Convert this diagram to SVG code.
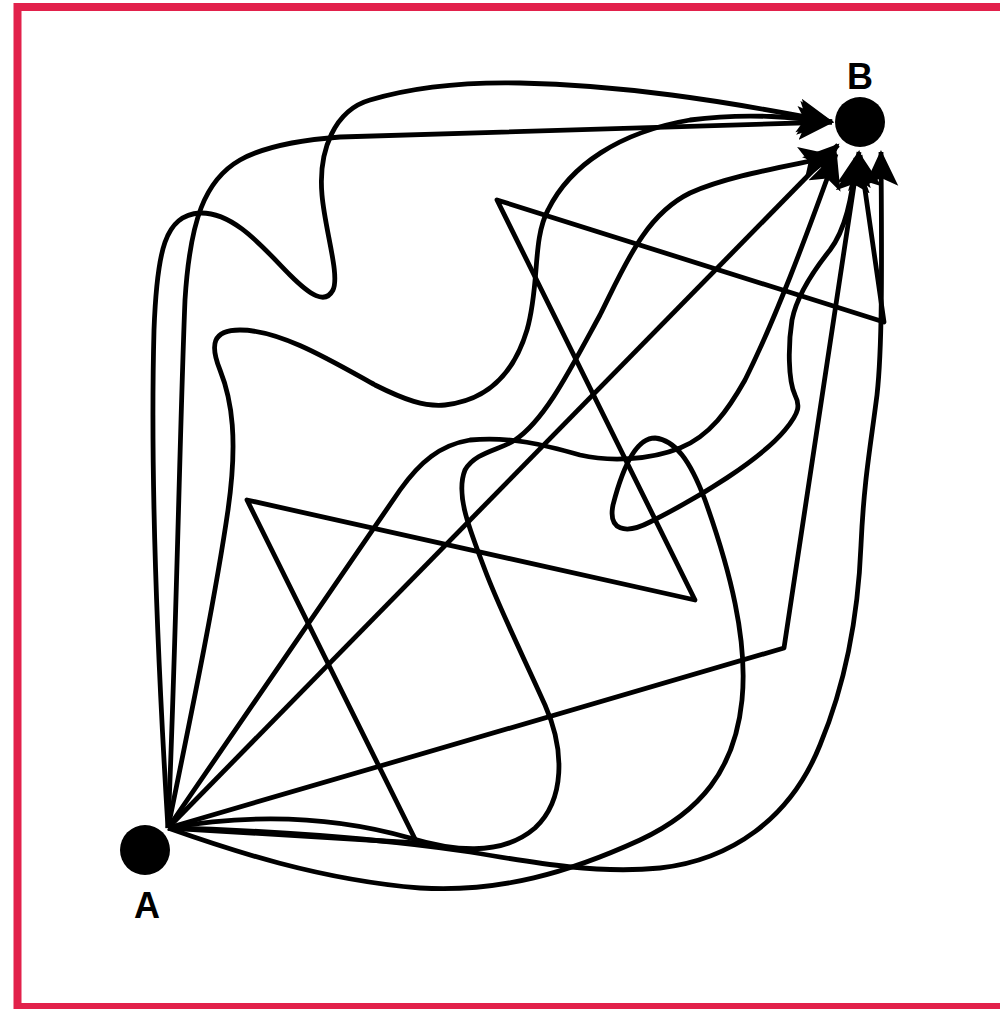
<svg xmlns="http://www.w3.org/2000/svg" width="1000" height="1009" viewBox="0 0 1000 1009">
<defs>
<marker id="arr" markerUnits="userSpaceOnUse" markerWidth="40" markerHeight="36" refX="34" refY="17" orient="auto">
<path d="M0,0 L36,17 L0,34 L8,17 z" fill="#000"/>
</marker>
<style>
.c{fill:none;stroke:#000;stroke-width:4.8;stroke-linejoin:round;stroke-linecap:butt;marker-end:url(#arr)}
.n{fill:#000}
.t{font-family:"Liberation Sans",Arial,sans-serif;font-weight:bold;font-size:36px;text-anchor:middle;fill:#000}
</style>
</defs>
<rect x="17.5" y="7" width="1000" height="1000" fill="#fff" stroke="#E2214B" stroke-width="8"/>
<g id="connectors">
<path id="e1" class="c" d="M168,828 C157,650 150,480 154,330 C157,250 165,215 200,213 C235,212 265,250 290,275 C310,295 325,305 333,290 C340,275 325,230 322,195 C318,150 335,110 370,100 C420,85 470,82 520,83 C620,85 720,100 832,122"/>
<path id="e2" class="c" d="M168,828 C176,650 180,420 185,300 C190,220 205,180 240,160 C265,146 300,140 340,137 L832,122"/>
<path id="e3" class="c" d="M168,828 C190,720 215,600 228,510 C238,440 232,400 220,370 C210,345 212,330 240,330 C280,330 330,360 375,385 C405,400 425,407 445,405 C490,400 515,370 527,330 C540,285 532,240 548,210 C570,165 620,132 690,120 C750,112 800,118 832,122"/>
<path id="e4" class="c" d="M168,828 L838,145"/>
<path id="e5" class="c" d="M168,828 L400,490 C420,462 440,445 470,440 C510,436 545,445 580,455 C610,462 650,460 680,448 C710,436 728,410 745,380 C775,320 805,240 836,154"/>
<path id="e6" class="c" d="M168,828 C260,812 340,818 410,838 C450,850 500,858 535,828 C565,800 565,750 545,705 C525,660 500,610 485,570 C470,530 455,495 465,470 C475,452 500,450 515,440 C545,420 570,370 600,315 C625,265 645,215 690,193 C730,175 790,166 834,156"/>
<path id="e7" class="c" d="M168,828 C230,850 320,880 420,888 C500,893 570,872 640,840 C700,812 735,770 742,700 C748,640 730,570 705,500 C690,460 675,440 655,438 C635,438 622,470 613,505 C608,530 625,535 650,522 C700,497 760,460 785,430 C800,412 800,405 795,395 C788,380 788,345 792,320 C796,300 810,275 830,250 C845,230 852,200 856,158"/>
<path id="e8" class="c" d="M168,828 C260,830 380,838 470,852 C540,864 600,874 660,868 C730,860 790,820 820,745 C845,685 858,620 861,545 C864,480 870,450 877,395 C882,350 882,280 881,152"/>
<path id="e9" class="c" d="M168,828 L417,843 L247,500 L695,600 L497,200 L884,322 L860,155"/>
<path id="e10" class="c" d="M168,828 L784,648 L859,152"/>
</g>
<g id="nodeA">
<circle class="n" cx="145" cy="850" r="25"/>
<text class="t" x="147" y="918">A</text>
</g>
<g id="nodeB">
<circle class="n" cx="860" cy="122" r="25"/>
<text class="t" x="860" y="89">B</text>
</g>
</svg>
